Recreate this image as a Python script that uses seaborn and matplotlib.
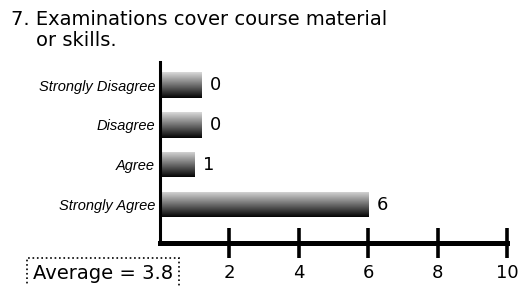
import numpy as np
import pandas as pd
import matplotlib
matplotlib.use("Agg")
import matplotlib.pyplot as plt
import seaborn as sns

# survey data
categories = ["Strongly Disagree", "Disagree", "Agree", "Strongly Agree"]
counts = [0, 0, 1, 6]
x_ticks = [2, 4, 6, 8, 10]
average = 3.8
question = "7. Examinations cover course material\n    or skills."

# zero answers are still shown as a short stub bar
zero_stub = 1.2

df = pd.DataFrame({"answer": categories, "count": counts})
df["shown"] = np.where(df["count"] == 0, zero_stub, df["count"])

sns.set_style("white")
plt.rcParams["font.family"] = ["DejaVu Sans"]
plt.rcParams["text.color"] = "black"
plt.rcParams["xtick.color"] = "black"
plt.rcParams["ytick.color"] = "black"

fig = plt.figure(figsize=(5.26, 2.86), dpi=100)
ax = fig.add_axes([0.304, 0.150, 0.66, 0.633])

sns.barplot(data=df, x="shown", y="answer", order=categories, orient="h",
            color="#888888", width=0.64, ax=ax)

# grey gradient fill, light on top, dark at the bottom
grad = np.linspace(0.85, 0.02, 64).reshape(-1, 1)
for bar in ax.patches:
    x0, y0 = bar.get_x(), bar.get_y()
    w, h = bar.get_width(), bar.get_height()
    im = ax.imshow(grad, cmap="gray", vmin=0, vmax=1, aspect="auto",
                   extent=(x0, x0 + w, y0 + h, y0), zorder=2)
    im.set_clip_path(bar)
    bar.set_facecolor("none")
    bar.set_edgecolor("none")

for i, (v, s) in enumerate(zip(df["count"], df["shown"])):
    ax.text(s + 0.25, i, str(v), va="center", ha="left", fontsize=13)

ax.set_xlim(0, 10)
ax.set_ylim(3.97, -0.58)
ax.set_xticks(x_ticks)
ax.set_xticklabels([str(t) for t in x_ticks], fontsize=13)
ax.tick_params(axis="x", direction="inout", length=22, width=2.6, pad=4,
               bottom=True)
ax.tick_params(axis="y", left=False, pad=0)
for lab in ax.get_yticklabels():
    lab.set_fontfamily("Liberation Sans")
    lab.set_fontstyle("italic")
    lab.set_fontsize(10.5)
ax.set_xlabel("")
ax.set_ylabel("")

sns.despine(ax=ax, top=True, right=True)
ax.spines["left"].set_linewidth(2.2)
ax.spines["bottom"].set_linewidth(3.6)
ax.spines["left"].set_color("black")
ax.spines["bottom"].set_color("black")

fig.text(0.02, 0.965, question, fontsize=14, va="top", ha="left",
         linespacing=1.15)
fig.text(0.062, 0.045, "Average = %.1f" % average, fontsize=14,
         va="center", ha="left",
         bbox=dict(boxstyle="square,pad=0.3", facecolor="white",
                   edgecolor="black", linestyle=":", linewidth=1.2))

fig.savefig("out.png", dpi=100)
